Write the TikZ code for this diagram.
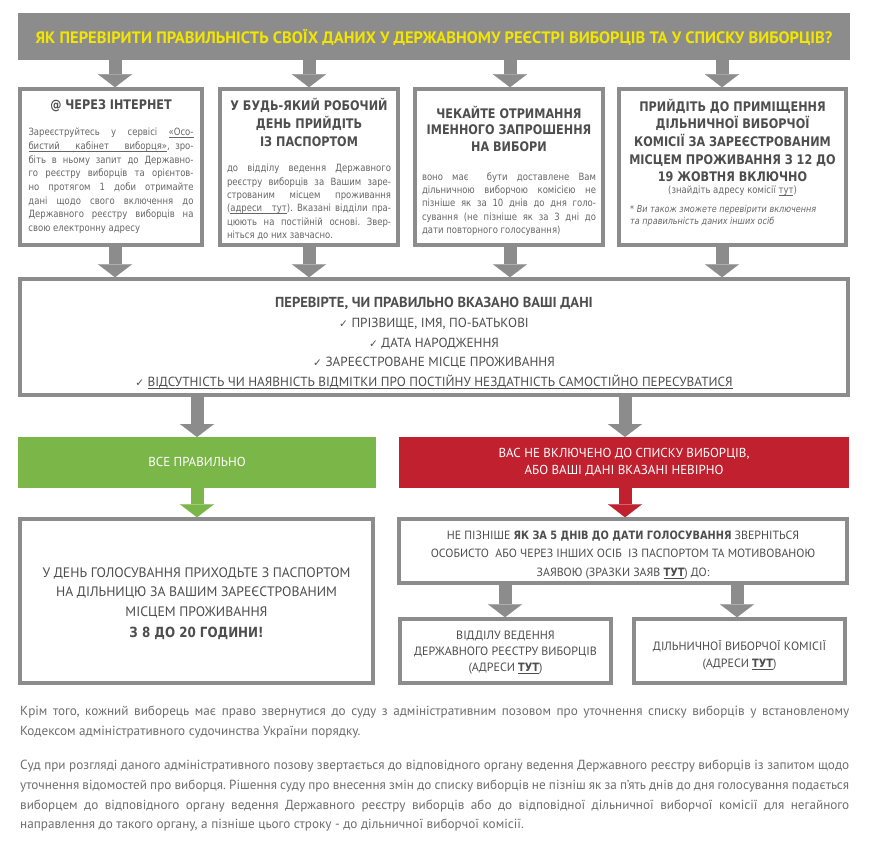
\documentclass[tikz,border=0pt]{standalone}
\usepackage{fontspec}
\setmainfont{DejaVu Sans}
\newfontfamily\tah[FakeStretch=0.85]{DejaVu Sans}
\newfontfamily\nar{PT Sans}
\newfontfamily\dv{DejaVu Sans}
\newcommand\myul[1]{\setbox0\hbox{#1}\rlap{\rule[-2pt]{\wd0}{0.55pt}}\box0}
\newcommand\ulsp{\leaders\hrule height -1.45pt depth 2pt\hskip 0.3em plus 0.6em minus 0.1em\relax}
\usetikzlibrary{arrows.meta,calc}
\definecolor{gr}{HTML}{8C8C8C}
\definecolor{yl}{HTML}{F2E600}
\definecolor{gn}{HTML}{7AB648}
\definecolor{rd}{HTML}{C1202F}
\definecolor{hd}{HTML}{4E4E4E}
\definecolor{bd}{HTML}{666666}
\definecolor{pg}{HTML}{6E6E6E}
\begin{document}
\frenchspacing
\begin{tikzpicture}[x=1pt,y=-1pt,
  box/.style={draw=gr, line width=3.5pt, fill=white, inner sep=0pt},
  bar/.style={inner sep=0pt, outer sep=0pt},
  blk/.style={draw=#1, line width=13pt, -{Triangle[width=34pt,length=13pt,line width=0.1pt]}},
  blk/.default=gr,
  txt/.style={inner sep=0pt, align=center},
  head/.style={txt, text=hd, font=\tah\bfseries\fontsize{13.2}{#1}\selectfont},
  head/.default=17.7,
  body/.style={inner sep=0pt, align=justify, anchor=north, text=bd, font=\tah\fontsize{10}{#1}\selectfont},
  body/.default=13.7,
  mtx/.style={txt, text=hd},
  para/.style={inner sep=0pt, align=justify, anchor=north west, text width=829pt, text=pg, font=\nar\fontsize{13.2}{19.7}\selectfont}
]
\fill[white] (0,0) rectangle (869,845);
\useasboundingbox (0,0) rectangle (869,845);

% title
\node[bar, fill=gr, minimum width=832pt, minimum height=47pt] (title) at (434,36.5) {};
\node[txt, text=yl, font=\nar\bfseries\fontsize{16.5}{18}\selectfont] (titlet) at (434,37)
  {ЯК ПЕРЕВІРИТИ ПРАВИЛЬНІСТЬ СВОЇХ ДАНИХ У ДЕРЖАВНОМУ РЕЄСТРІ ВИБОРЦІВ ТА У СПИСКУ ВИБОРЦІВ?};

% top boxes
\node[box, minimum width=182pt, minimum height=156pt] (b1) at (111,167) {};
\node[box, minimum width=178pt, minimum height=156pt] (b2) at (309,167) {};
\node[box, minimum width=188pt, minimum height=156pt] (b3) at (509,167) {};
\node[box, minimum width=227pt, minimum height=156pt] (b4) at (732.5,167) {};

\node[head] (b1h) at (111,106) {@ ЧЕРЕЗ ІНТЕРНЕТ};
\node[body, text width=165pt] (b1t) at (111,128)
  {Зареєструйтесь у сервісі \myul{«Осо-}\linebreak \myul{бистий}\ulsp\myul{кабінет}\ulsp\myul{виборця»}, зро-\linebreak біть в ньому запит до Державно-\linebreak го реєстру виборців та орієнтов-\linebreak но протягом 1 доби отримайте\linebreak дані щодо свого включення до\linebreak Державного реєстру виборців на\linebreak свою електронну адресу};

\node[head=18] (b2h) at (309,122) {У БУДЬ-ЯКИЙ РОБОЧИЙ\\ДЕНЬ ПРИЙДІТЬ\\ІЗ ПАСПОРТОМ};
\node[body=13.4, text width=164pt] (b2t) at (309,164)
  {до відділу ведення Державного\linebreak реєстру виборців за Вашим заре-\linebreak строваним місцем проживання\linebreak (\myul{адреси}\ulsp\myul{тут}). Вказані відділи пра-\linebreak цюють на постійній основі. Звер-\linebreak ніться до них завчасно.};

\node[head=16.5] (b3h) at (509,128.5) {ЧЕКАЙТЕ ОТРИМАННЯ\\ІМЕННОГО ЗАПРОШЕННЯ\\НА ВИБОРИ};
\node[body=13.2, text width=174pt] (b3t) at (509,172.5)
  {воно має\ \ бути доставлене Вам\linebreak дільничною виборчою комісією не\linebreak пізніше як за 10 днів до дня голо-\linebreak сування (не пізніше як за 3 дні до\linebreak дати повторного голосування)};

\node[head] (b4h) at (732.5,140.5) {ПРИЙДІТЬ ДО ПРИМІЩЕННЯ\\ДІЛЬНИЧНОЇ ВИБОРЧОЇ\\КОМІСІЇ ЗА ЗАРЕЄСТРОВАНИМ\\МІСЦЕМ ПРОЖИВАННЯ З 12 ДО\\19 ЖОВТНЯ ВКЛЮЧНО};
\node[txt, text=bd, font=\tah\fontsize{10}{12}\selectfont] (b4s) at (732.5,190.5) {(знайдіть адресу комісії \myul{тут})};
\node[inner sep=0pt, align=left, anchor=north west, text=bd, font=\tah\itshape\fontsize{9.5}{12}\selectfont] (b4n) at (630,205)
  {* Ви також зможете перевірити включення\\та правильність даних інших осіб};

% middle box
\node[box, minimum width=828pt, minimum height=116pt] (mid) at (434,337) {};
\node[mtx, font=\nar\fontsize{13.2}{19.6}\selectfont] (midt) at (434,343)
  {{\bfseries\fontsize{14.5}{19.6}\selectfont ПЕРЕВІРТЕ, ЧИ ПРАВИЛЬНО ВКАЗАНО ВАШІ ДАНІ}\\
   {\dv\fontsize{10.5}{12}\selectfont ✓} ПРІЗВИЩЕ, ІМЯ, ПО-БАТЬКОВІ\\
   {\dv\fontsize{10.5}{12}\selectfont ✓} ДАТА НАРОДЖЕННЯ\\
   {\dv\fontsize{10.5}{12}\selectfont ✓} ЗАРЕЄСТРОВАНЕ МІСЦЕ ПРОЖИВАННЯ\\
   {\dv\fontsize{10.5}{12}\selectfont ✓} \myul{ВІДСУТНІСТЬ ЧИ НАЯВНІСТЬ ВІДМІТКИ ПРО ПОСТІЙНУ НЕЗДАТНІСТЬ САМОСТІЙНО ПЕРЕСУВАТИСЯ}};

% green / red bars
\node[bar, fill=gn, minimum width=358pt, minimum height=51pt] (ok) at (197,462.5) {};
\node[mtx, text=white, font=\nar\fontsize{13}{17}\selectfont] (okt) at (197,462) {ВСЕ ПРАВИЛЬНО};
\node[bar, fill=rd, minimum width=450pt, minimum height=51pt] (bad) at (624,462.5) {};
\node[mtx, text=white, font=\nar\fontsize{13}{17}\selectfont] (badt) at (624,462) {ВАС НЕ ВКЛЮЧЕНО ДО СПИСКУ ВИБОРЦІВ,\\АБО ВАШІ ДАНІ ВКАЗАНІ НЕВІРНО};

% lower boxes
\node[box, minimum width=353pt, minimum height=164pt] (bl) at (196.5,601) {};
\node[mtx, font=\nar\fontsize{13.7}{19.5}\selectfont] (blt) at (196.5,603.5)
  {У ДЕНЬ ГОЛОСУВАННЯ ПРИХОДЬТЕ З ПАСПОРТОМ\\НА ДІЛЬНИЦЮ ЗА ВАШИМ ЗАРЕЄСТРОВАНИМ\\МІСЦЕМ ПРОЖИВАННЯ\\[1.5pt]{\tah\bfseries\fontsize{14}{19.5}\selectfont З 8 ДО 20 ГОДИНИ!}};

\node[box, minimum width=448pt, minimum height=64pt] (rb) at (623,551) {};
\node[mtx, font=\nar\fontsize{11.9}{18.5}\selectfont] (rbt) at (623,555)
  {НЕ ПІЗНІШЕ {\tah\bfseries\fontsize{11.5}{18.5}\selectfont ЯК ЗА 5 ДНІВ ДО ДАТИ ГОЛОСУВАННЯ} ЗВЕРНІТЬСЯ\\
   ОСОБИСТО\ \ АБО ЧЕРЕЗ ІНШИХ ОСІБ\ \ ІЗ ПАСПОРТОМ ТА МОТИВОВАНОЮ\\
   ЗАЯВОЮ (ЗРАЗКИ ЗАЯВ {\tah\bfseries\fontsize{11.5}{18.5}\selectfont\myul{ТУТ}}) ДО:};

\node[box, minimum width=211pt, minimum height=64pt] (r1) at (505.5,651) {};
\node[mtx, font=\nar\fontsize{12}{16.3}\selectfont] (r1t) at (505.5,652.5)
  {ВІДДІЛУ ВЕДЕННЯ\\ДЕРЖАВНОГО РЕЄСТРУ ВИБОРЦІВ\\(АДРЕСИ {\tah\bfseries\fontsize{11.5}{16.3}\selectfont\myul{ТУТ}})};
\node[box, minimum width=211pt, minimum height=64pt] (r2) at (739.5,651) {};
\node[mtx, font=\nar\fontsize{12}{17}\selectfont] (r2t) at (739.5,655)
  {ДІЛЬНИЧНОЇ ВИБОРЧОЇ КОМІСІЇ\\(АДРЕСИ {\tah\bfseries\fontsize{11.5}{17}\selectfont\myul{ТУТ}})};

% paragraphs
\node[para] (p1) at (20,706)
  {Крім того, кожний виборець має право звернутися до суду з адміністративним позовом про уточнення списку виборців у встановленому\linebreak Кодексом адміністративного судочинства України порядку.};
\node[para] (p2) at (20,760)
  {Суд при розгляді даного адміністративного позову звертається до відповідного органу ведення Державного реєстру виборців із запитом щодо\linebreak уточнення відомостей про виборця. Рішення суду про внесення змін до списку виборців не пізніш як за п’ять днів до дня голосування подається\linebreak виборцем до відповідного органу ведення Державного реєстру виборців або до відповідної дільничної виборчої комісії для негайного\linebreak направлення до такого органу, а пізніше цього строку - до дільничної виборчої комісії.};

% arrow x positions
\coordinate (x1) at (115,0);
\coordinate (x2) at (309,0);
\coordinate (x3) at (510,0);
\coordinate (x4) at (722,0);
\coordinate (xl) at (197,0);
\coordinate (xr) at (625,0);
\coordinate (xa) at (505,0);
\coordinate (xb) at (737,0);

\draw[blk] (title.south -| x1) -- (b1.north -| x1);
\draw[blk] (title.south -| x2) -- (b2.north -| x2);
\draw[blk] (title.south -| x3) -- (b3.north -| x3);
\draw[blk] (title.south -| x4) -- (b4.north -| x4);

\draw[blk] (b1.south -| x1) -- (mid.north -| x1);
\draw[blk] (b2.south -| x2) -- (mid.north -| x2);
\draw[blk] (b3.south -| x3) -- (mid.north -| x3);
\draw[blk] (b4.south -| x4) -- (mid.north -| x4);

\draw[blk] (mid.south -| xl) -- (ok.north -| xl);
\draw[blk] (mid.south -| xr) -- (bad.north -| xr);
\draw[blk=gn] (ok.south -| xl) -- (bl.north -| xl);
\draw[blk=rd] (bad.south -| xr) -- (rb.north -| xr);

\draw[blk] (rb.south -| xa) -- (r1.north -| xa);
\draw[blk] (rb.south -| xb) -- (r2.north -| xb);
\end{tikzpicture}
\end{document}
